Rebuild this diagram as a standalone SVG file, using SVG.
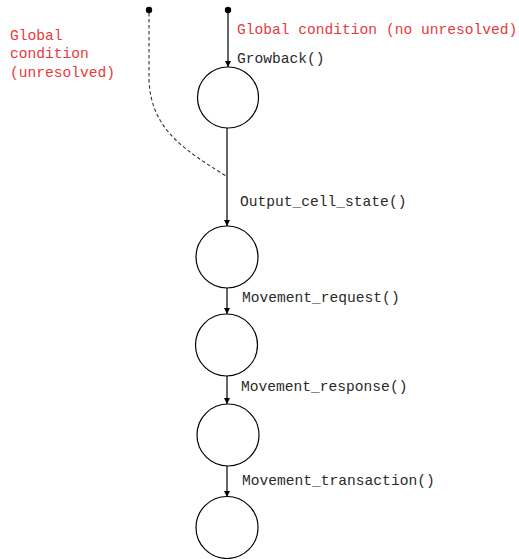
<svg xmlns="http://www.w3.org/2000/svg" width="519" height="559" viewBox="0 0 519 559">
  <style>
    .state { fill: #ffffff; stroke: #000000; stroke-width: 1.2; }
    .edge { fill: none; stroke: #000000; stroke-width: 1.2; }
    .dashed { fill: none; stroke: #333333; stroke-width: 1.1; stroke-dasharray: 3.5 2.5; }
    .lbl { font-family: "Liberation Mono", "Courier New", monospace; font-size: 14.6px; fill: #2a2a2a; }
    .red { fill: #e8393a; }
  </style>
  <defs>
    <marker id="arrow" viewBox="0 0 10 10" refX="10" refY="5" markerWidth="6.5" markerHeight="9" markerUnits="userSpaceOnUse" orient="auto">
      <path d="M0,0 L10,5 L0,10 Z" fill="#000000"/>
    </marker>
  </defs>
  <rect width="519" height="559" fill="#ffffff"/>

  <g id="connectors">
    <path class="dashed" d="M149,13 L149,80 C151,130 185,150 226,176"/>
    <line class="edge" x1="228" y1="12" x2="228" y2="67" marker-end="url(#arrow)"/>
    <line class="edge" x1="227" y1="128" x2="227" y2="226" marker-end="url(#arrow)"/>
    <line class="edge" x1="227" y1="288" x2="227" y2="314" marker-end="url(#arrow)"/>
    <line class="edge" x1="227" y1="376" x2="227" y2="404" marker-end="url(#arrow)"/>
    <line class="edge" x1="227" y1="466" x2="227" y2="497" marker-end="url(#arrow)"/>
  </g>

  <g id="start-unresolved">
    <circle cx="149" cy="10" r="3.2" fill="#000000"/>
    <text class="lbl red" x="10" y="40">Global</text>
    <text class="lbl red" x="10" y="58">condition</text>
    <text class="lbl red" x="10" y="77">(unresolved)</text>
  </g>

  <g id="start-resolved">
    <circle cx="228" cy="10" r="3.2" fill="#000000"/>
    <text class="lbl red" x="237" y="34">Global condition (no unresolved)</text>
  </g>

  <g id="state-growback">
    <circle class="state" cx="228" cy="97.5" r="30.5"/>
    <text class="lbl" x="237" y="63">Growback()</text>
  </g>

  <g id="state-output">
    <circle class="state" cx="227" cy="257" r="31"/>
    <text class="lbl" x="240" y="206">Output_cell_state()</text>
  </g>

  <g id="state-request">
    <circle class="state" cx="226.5" cy="345" r="31"/>
    <text class="lbl" x="242" y="302">Movement_request()</text>
  </g>

  <g id="state-response">
    <circle class="state" cx="228" cy="435" r="31"/>
    <text class="lbl" x="241" y="391">Movement_response()</text>
  </g>

  <g id="state-transaction">
    <circle class="state" cx="227" cy="527.5" r="31"/>
    <text class="lbl" x="242" y="485">Movement_transaction()</text>
  </g>
</svg>
